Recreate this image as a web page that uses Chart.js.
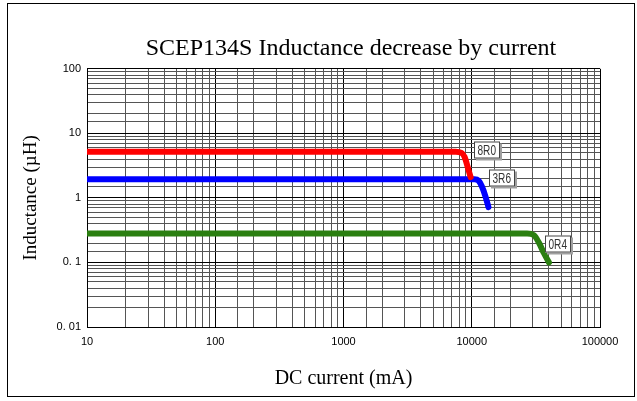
<!DOCTYPE html>
<html lang="en">
<head>
  <meta charset="UTF-8" />
  <title>SCEP134S Inductance decrease by current</title>
  <script src="https://cdn.jsdelivr.net/npm/chart.js"></script>
  <style>
    body {
      margin: 0;
      background: #fff;
    }
    .wrap {
      position: relative;
      width: 637px;
      height: 401px;
    }
    .frame {
      position: absolute;
      left: 7px;
      top: 3px;
      width: 626px;
      height: 392px;
      border: 1px solid #000;
      pointer-events: none;
    }
  </style>
</head>
<body>
  <div class="wrap">
    <canvas id="chart" width="637" height="401"></canvas>
    <div class="frame"></div>
  </div>

  <script>
    // axis ticks
    const currentTicks = [10, 100, 1000, 10000, 100000];
    const currentTickLabels = ['10', '100', '1000', '10000', '100000'];
    const inductanceTicks = [0.01, 0.1, 1, 10, 100];
    const inductanceTickLabels = ['0. 01', '0. 1', '1', '10', '100'];

    // 8R0
    const current8R0 = [10, 7500, 8300, 8800, 9300, 9800];
    const induct8R0 = [5.2, 5.2, 5.0, 4.3, 3.0, 2.1];
    // 3R6
    const current3R6 = [10, 10500, 11300, 12000, 12800, 13500];
    const induct3R6 = [1.95, 1.95, 1.85, 1.5, 1.05, 0.72];
    // 0R4
    const current0R4 = [10, 27000, 30500, 33500, 36500, 40000];
    const induct0R4 = [0.28, 0.28, 0.265, 0.2, 0.14, 0.1];

    const seriesNames = ['8R0', '3R6', '0R4'];
    const seriesColors = ['#ff0000', '#0000ff', '#2a7f10'];
    // where the part-number boxes sit (left edge, middle)
    const labelCurrent = [10400, 13700, 37000];
    const labelInduct = [5.6, 2.0, 0.19];

    const toPoints = (xs, ys) => xs.map((x, i) => ({ x: x, y: ys[i] }));
    const isDecade = v => Math.abs(Math.log10(v) - Math.round(Math.log10(v))) < 1e-9;

    const sans = "'Liberation Sans', Arial, sans-serif";
    const serif = "'Liberation Serif', 'Times New Roman', serif";

    // title in the original sits right of the chart's middle
    const titleShift = {
      id: 'titleShift',
      afterLayout(chart) {
        const t = chart.titleBlock;
        if (t) { t.left += 41; t.right += 41; }
      }
    };

    const partLabels = {
      id: 'partLabels',
      afterDatasetsDraw(chart) {
        const { ctx, scales } = chart;
        ctx.save();
        ctx.font = '14px ' + sans;
        ctx.textBaseline = 'middle';
        const squeeze = 0.72;
        seriesNames.forEach((name, i) => {
          const x = Math.round(scales.x.getPixelForValue(labelCurrent[i]));
          const y = Math.round(scales.y.getPixelForValue(labelInduct[i]));
          const tw = ctx.measureText(name).width * squeeze;
          const w = Math.ceil(tw) + 7;
          const h = 17;
          ctx.fillStyle = '#a0a0a0';
          ctx.fillRect(x + 2, y - h / 2 + 2, w, h);
          ctx.fillStyle = '#fff';
          ctx.fillRect(x, y - h / 2, w, h);
          ctx.strokeStyle = '#444';
          ctx.lineWidth = 1;
          ctx.strokeRect(x + 0.5, y - h / 2 + 0.5, w - 1, h - 1);
          ctx.fillStyle = '#333';
          ctx.save();
          ctx.translate(x + 3.5, y + 1);
          ctx.scale(squeeze, 1);
          ctx.fillText(name, 0, 0);
          ctx.restore();
        });
        ctx.restore();
      }
    };

    const makeSet = (i, xs, ys) => ({
      label: seriesNames[i],
      data: toPoints(xs, ys),
      borderColor: seriesColors[i],
      backgroundColor: seriesColors[i],
      borderWidth: 6,
      borderCapStyle: 'round',
      borderJoinStyle: 'round',
      pointRadius: 0,
      cubicInterpolationMode: 'monotone',
      fill: false
    });

    new Chart(document.getElementById('chart'), {
      type: 'line',
      data: {
        datasets: [
          makeSet(0, current8R0, induct8R0),
          makeSet(1, current3R6, induct3R6),
          makeSet(2, current0R4, induct0R4)
        ]
      },
      options: {
        responsive: false,
        animation: false,
        layout: { padding: { left: 20, right: 37, top: 0, bottom: 10 } },
        plugins: {
          legend: { display: false },
          tooltip: { enabled: false },
          title: {
            display: true,
            text: 'SCEP134S Inductance decrease by current',
            color: '#000',
            font: { family: serif, size: 24, weight: 'normal' },
            padding: { top: 34, bottom: 6 }
          }
        },
        scales: {
          x: {
            type: 'logarithmic',
            min: currentTicks[0],
            max: currentTicks[currentTicks.length - 1],
            afterFit(scale) { scale.height = 64; },
            border: { color: '#000' },
            grid: {
              color: ctx => isDecade(ctx.tick.value) ? '#000' : '#555',
              drawTicks: false
            },
            ticks: {
              autoSkip: false,
              maxRotation: 0,
              padding: 8,
              color: '#000',
              font: { family: sans, size: 11 },
              callback: v => {
                const k = currentTicks.findIndex(t => Math.abs(t - v) < 1e-6 * t);
                return k >= 0 ? currentTickLabels[k] : '';
              }
            },
            title: {
              display: true,
              text: 'DC current (mA)',
              color: '#000',
              font: { family: serif, size: 20 },
              padding: { top: 11, bottom: 0 }
            }
          },
          y: {
            type: 'logarithmic',
            min: inductanceTicks[0],
            max: inductanceTicks[inductanceTicks.length - 1],
            afterFit(scale) { scale.width = 67; },
            border: { color: '#000' },
            grid: {
              color: ctx => isDecade(ctx.tick.value) ? '#000' : '#555',
              drawTicks: false
            },
            ticks: {
              autoSkip: false,
              padding: 6,
              color: '#000',
              font: { family: sans, size: 11 },
              callback: v => {
                const k = inductanceTicks.findIndex(t => Math.abs(t - v) < 1e-6 * t);
                return k >= 0 ? inductanceTickLabels[k] : '';
              }
            },
            title: {
              display: true,
              text: 'Inductance (\u00b5H)',
              color: '#000',
              font: { family: serif, size: 19 },
              padding: { top: 0, bottom: 4 }
            }
          }
        }
      },
      plugins: [titleShift, partLabels]
    });
  </script>
</body>
</html>
